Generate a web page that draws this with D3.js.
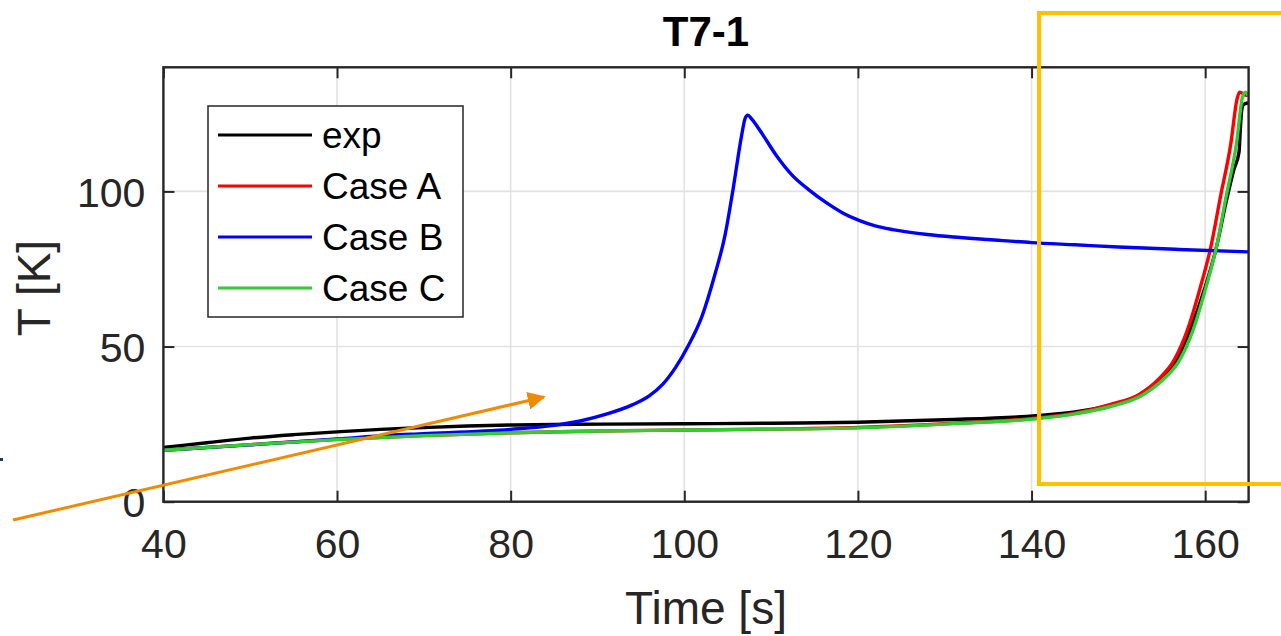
<!DOCTYPE html>
<html>
<head>
<meta charset="utf-8">
<script src="https://cdn.jsdelivr.net/npm/d3@7"></script>
<style>
  html, body { margin: 0; padding: 0; background: #fff; }
  svg { display: block; }
  text { font-family: Arial, "Liberation Sans", Helvetica, sans-serif; }
</style>
</head>
<body>
<svg id="chart" width="1281" height="636"></svg>
<script>
// ---- Data ----
const title = "T7-1";
const xLabel = "Time [s]";
const yLabel = "T [K]";
const xTicks = [40, 60, 80, 100, 120, 140, 160];
const yTicks = [0, 50, 100];
const seriesNames = ["exp", "Case A", "Case B", "Case C"];
const seriesColors = ["#000000", "#ff0000", "#0000ff", "#33cc33"];

const expT = [40, 45, 50, 55, 60, 65, 70, 75, 80, 85, 91, 100, 110, 120, 130, 140.5, 145, 149, 152.5, 154.8, 156.7, 158.25, 160.0, 161.3, 162.4, 163.3, 163.9, 164.05, 164.2, 164.4, 164.9];
const expV = [17.5, 19.0, 20.5, 21.6, 22.5, 23.3, 23.9, 24.4, 24.7, 24.9, 25.0, 25.1, 25.3, 25.6, 26.4, 27.7, 28.9, 31.0, 34.4, 39.2, 45.6, 55.3, 69.2, 82.1, 96.5, 107.0, 112.7, 120.0, 126.0, 128.0, 128.5];

const caseAT = [40, 50, 60, 70, 80, 90, 100, 110, 120, 130, 140, 145, 149, 152.4, 154.6, 156.45, 157.95, 159.45, 160.65, 161.75, 162.95, 163.65, 163.95, 164.2, 164.5, 164.8];
const caseAV = [16.6, 18.4, 20.1, 21.3, 22.2, 22.8, 23.1, 23.4, 23.9, 25.1, 26.8, 28.5, 31.3, 34.6, 39.4, 45.8, 55.3, 69.2, 82.1, 98.2, 115.4, 129.5, 132.0, 131.8, 131.2, 131.0];

const caseBT = [40, 50, 60, 66, 70, 80, 85, 88, 91, 94, 96, 97.5, 99, 100.5, 102, 103.5, 104.7, 105.6, 106.6, 107.0, 107.3, 107.8, 108.7, 110.6, 112.5, 114.5, 116.4, 118.3, 120.2, 122, 124, 126, 128, 131, 135, 140, 145, 150, 157, 165];
const caseBV = [16.6, 18.3, 20.2, 21.4, 21.9, 23.3, 24.6, 26.0, 28.2, 31.2, 34.2, 37.8, 43.3, 50.5, 59.5, 73.0, 86.0, 100.4, 118.0, 123.5, 124.6, 123.2, 119.7, 111.6, 105.0, 100.2, 96.3, 93.0, 90.6, 88.9, 87.7, 86.8, 86.1, 85.3, 84.5, 83.5, 82.8, 82.1, 81.3, 80.5];

const caseCT = [40, 50, 60, 70, 80, 90, 100, 110, 120, 130, 140, 145, 149, 152.8, 155.1, 157.05, 158.6, 160.1, 161.3, 162.4, 163.6, 164.3, 164.65, 164.9];
const caseCV = [16.6, 18.4, 20.0, 21.3, 22.2, 22.8, 23.1, 23.4, 23.8, 25.0, 26.6, 28.3, 30.6, 34.4, 39.2, 45.6, 55.3, 69.2, 82.1, 98.2, 115.4, 130.4, 132.0, 131.2];

const seriesT = [expT, caseAT, caseBT, caseCT];
const seriesV = [expV, caseAV, caseBV, caseCV];

// ---- Layout ----
const svg = d3.select("#chart");
const L = 163.4, R = 1248.6, T = 67.3, B = 501.7;
const x = d3.scaleLinear().domain([40, 165]).range([L, R]);
const y = d3.scaleLinear().domain([0, 140]).range([B, T]);
const axisColor = "#262626";
const tickFont = 41;

svg.append("rect").attr("x", L).attr("y", T).attr("width", R - L).attr("height", B - T).attr("fill", "#fff");

// grid
const grid = svg.append("g");
grid.selectAll(".gx").data(xTicks.filter(d => d > 40)).enter().append("line")
  .attr("x1", d => x(d)).attr("x2", d => x(d)).attr("y1", T).attr("y2", B)
  .attr("stroke", "#e2e2e2").attr("stroke-width", 1.6);
grid.selectAll(".gy").data(yTicks.filter(d => d > 0)).enter().append("line")
  .attr("x1", L).attr("x2", R).attr("y1", d => y(d)).attr("y2", d => y(d))
  .attr("stroke", "#e2e2e2").attr("stroke-width", 1.6);

// series
const line = d3.line().curve(d3.curveMonotoneX);
svg.append("clipPath").attr("id", "clip").append("rect")
  .attr("x", L).attr("y", T - 2).attr("width", R - L).attr("height", B - T + 2);
const lines = svg.append("g").attr("clip-path", "url(#clip)");
seriesNames.forEach((name, i) => {
  const pts = seriesT[i].map((t, k) => [x(t), y(seriesV[i][k])]);
  lines.append("path").attr("d", line(pts)).attr("fill", "none")
    .attr("stroke", seriesColors[i]).attr("stroke-width", 3.4)
    .attr("stroke-linejoin", "round").attr("stroke-linecap", "round");
});

// axes (box with inward ticks on all sides)
const tickLen = 11;
const axB = d3.axisBottom(x).tickValues(xTicks).tickSize(-tickLen).tickPadding(20);
const axT = d3.axisTop(x).tickValues(xTicks).tickSize(-tickLen).tickFormat("");
const axL = d3.axisLeft(y).tickValues(yTicks).tickSize(-tickLen).tickPadding(20);
const axR = d3.axisRight(y).tickValues(yTicks).tickSize(-tickLen).tickFormat("");
function styleAxis(g) {
  g.select(".domain").remove();
  g.selectAll(".tick line").attr("stroke", axisColor).attr("stroke-width", 2);
  g.selectAll(".tick text").attr("fill", axisColor).style("font-size", tickFont + "px")
    .style("font-family", "Arial, 'Liberation Sans', sans-serif");
}
svg.append("g").attr("transform", `translate(0,${B})`).call(axB).call(styleAxis)
  .selectAll(".tick text").attr("dy", "0.72em").attr("y", 27);
svg.append("g").attr("transform", `translate(0,${T})`).call(axT).call(styleAxis);
svg.append("g").attr("transform", `translate(${L},0)`).call(axL).call(styleAxis)
  .selectAll(".tick text").attr("x", -18).attr("dy", "0.36em");
svg.append("g").attr("transform", `translate(${R},0)`).call(axR).call(styleAxis);
svg.append("rect").attr("x", L).attr("y", T).attr("width", R - L).attr("height", B - T)
  .attr("fill", "none").attr("stroke", axisColor).attr("stroke-width", 2.4);

// labels
svg.append("text").attr("x", (L + R) / 2).attr("y", 624).attr("text-anchor", "middle")
  .attr("fill", axisColor).style("font-size", "46px").text(xLabel);
svg.append("text").attr("transform", "translate(50,288) rotate(-90)").attr("text-anchor", "middle")
  .attr("fill", axisColor).style("font-size", "46px").text(yLabel);
svg.append("text").attr("x", (L + R) / 2).attr("y", 46).attr("text-anchor", "middle")
  .attr("fill", "#000").style("font-size", "42px").style("font-weight", "bold").text(title);

// legend
const lg = svg.append("g");
lg.append("rect").attr("x", 208).attr("y", 106).attr("width", 255).attr("height", 211)
  .attr("fill", "#fff").attr("stroke", axisColor).attr("stroke-width", 1.5);
seriesNames.forEach((name, i) => {
  const cy = 135 + i * 51;
  lg.append("line").attr("x1", 218).attr("x2", 312).attr("y1", cy).attr("y2", cy)
    .attr("stroke", seriesColors[i]).attr("stroke-width", 3);
  lg.append("text").attr("x", 322).attr("y", cy).attr("dy", "0.36em")
    .attr("fill", "#000").style("font-size", "37px").text(name);
});

// annotations: yellow frame, orange arrow, small mark
svg.append("path").attr("d", "M1290,13 L1039,13 L1039,484 L1290,484")
  .attr("fill", "none").attr("stroke", "#ffc000").attr("stroke-width", 4);
const defs = svg.append("defs");
defs.append("marker").attr("id", "arrow").attr("viewBox", "0 0 10 10").attr("refX", 9).attr("refY", 5)
  .attr("markerWidth", 6).attr("markerHeight", 6).attr("orient", "auto").attr("markerUnits", "strokeWidth")
  .append("path").attr("d", "M0,0 L10,5 L0,10 z").attr("fill", "#f08a00");
svg.append("line").attr("x1", 13).attr("y1", 520).attr("x2", 544).attr("y2", 397)
  .attr("stroke", "#f08a00").attr("stroke-width", 3).attr("marker-end", "url(#arrow)");
svg.append("rect").attr("x", 0).attr("y", 458).attr("width", 3).attr("height", 3).attr("fill", "#1f3864");
</script>
</body>
</html>
